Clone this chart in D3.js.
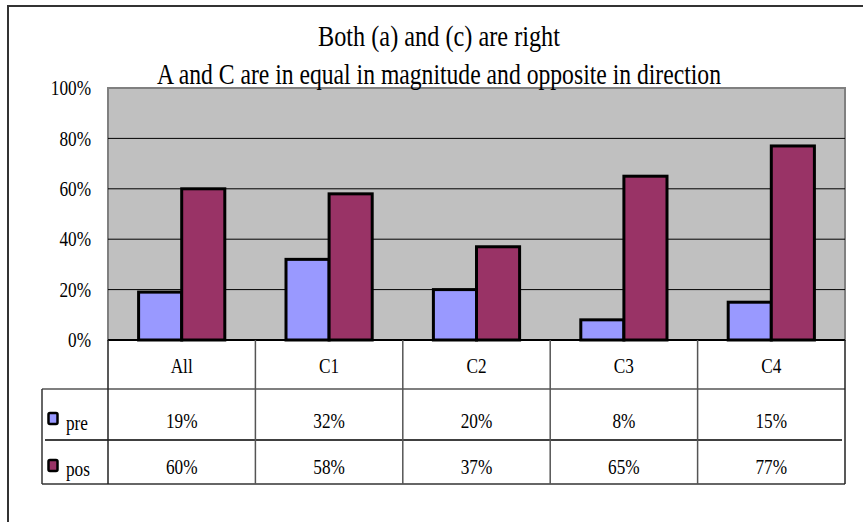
<!DOCTYPE html>
<html>
<head>
<meta charset="utf-8">
<script src="https://cdn.jsdelivr.net/npm/d3@7"></script>
<style>
  html, body { margin: 0; padding: 0; background: #fff; }
  svg { display: block; }
</style>
</head>
<body>
<svg id="chart" width="863" height="522"></svg>
<script>
// Data
const categories = ["All", "C1", "C2", "C3", "C4"];
const seriesNames = ["pre", "pos"];
const preValues = [0.19, 0.32, 0.20, 0.08, 0.15];
const posValues = [0.60, 0.58, 0.37, 0.65, 0.77];
const yTicks = [0, 0.2, 0.4, 0.6, 0.8, 1.0];
const titleLines = ["Both (a) and (c) are right",
                    "A and C are in equal in magnitude and opposite in direction"];

const colors = { pre: "#9999FF", pos: "#993366" };
const seriesValues = { pre: preValues, pos: posValues };
const FONT = "'Liberation Serif', 'DejaVu Serif', serif";

const svg = d3.select("#chart");

// Outer chart frame
svg.append("path")
  .attr("d", "M8,530 V6 H870")
  .attr("fill", "none").attr("stroke", "#333").attr("stroke-width", 2);

// Plot geometry
const plot = { left: 108, right: 845, top: 88, bottom: 340 };

const x = d3.scaleBand().domain(categories).range([plot.left, plot.right]).padding(0);
const xs = d3.scaleBand().domain(seriesNames).range([0, x.bandwidth()])
  .paddingInner(0).paddingOuter(0.71);
const y = d3.scaleLinear().domain([0, 1]).range([plot.bottom, plot.top]);
const fmt = d3.format(".0%");

// Condensed serif look: shrink horizontally while keeping anchor
function condense(sel, k) {
  sel.each(function () {
    const w = this.getComputedTextLength();
    d3.select(this).attr("textLength", w * k).attr("lengthAdjust", "spacingAndGlyphs");
  });
}

// Plot background
svg.append("rect")
  .attr("x", plot.left).attr("y", plot.top)
  .attr("width", plot.right - plot.left).attr("height", plot.bottom - plot.top)
  .attr("fill", "#C0C0C0").attr("stroke", "#808080").attr("stroke-width", 2);

// Gridlines
svg.append("g").selectAll("line")
  .data(yTicks.filter(d => d > 0 && d < 1))
  .join("line")
  .attr("x1", plot.left).attr("x2", plot.right)
  .attr("y1", d => y(d)).attr("y2", d => y(d))
  .attr("stroke", "#000").attr("stroke-width", 1);

// Y axis labels
const yAxis = d3.axisLeft(y).tickValues(yTicks).tickFormat(fmt).tickSize(0).tickPadding(17);
const yg = svg.append("g").attr("transform", `translate(${plot.left},0)`).call(yAxis);
yg.attr("font-family", FONT).attr("font-size", 21);
yg.select(".domain").remove();
yg.selectAll("text").attr("fill", "#000");
condense(yg.selectAll("text"), 0.82);

// Bars
const groups = svg.append("g").selectAll("g")
  .data(categories)
  .join("g")
  .attr("transform", d => `translate(${x(d)},0)`);

groups.selectAll("rect")
  .data((c, i) => seriesNames.map(s => ({ s, v: seriesValues[s][i] })))
  .join("rect")
  .attr("x", d => xs(d.s))
  .attr("y", d => y(d.v))
  .attr("width", xs.bandwidth())
  .attr("height", d => y(0) - y(d.v))
  .attr("fill", d => colors[d.s])
  .attr("stroke", "#000").attr("stroke-width", 3);

// Category axis line
svg.append("line")
  .attr("x1", plot.left).attr("x2", plot.right)
  .attr("y1", plot.bottom).attr("y2", plot.bottom)
  .attr("stroke", "#000").attr("stroke-width", 2);

// Data table
const tbl = { left: 42, headBottom: 389, rowSplit: 440, bottom: 484 };
const lineColor = "#333";

svg.append("line").attr("x1", tbl.left).attr("x2", plot.right)
  .attr("y1", tbl.headBottom).attr("y2", tbl.headBottom)
  .attr("stroke", "#555").attr("stroke-width", 1.5);
svg.append("line").attr("x1", 45).attr("x2", plot.right - 3)
  .attr("y1", tbl.rowSplit).attr("y2", tbl.rowSplit)
  .attr("stroke", "#000").attr("stroke-width", 1.5);
svg.append("line").attr("x1", tbl.left).attr("x2", plot.right)
  .attr("y1", tbl.bottom).attr("y2", tbl.bottom)
  .attr("stroke", lineColor).attr("stroke-width", 1.5);
svg.append("line").attr("x1", tbl.left).attr("x2", tbl.left)
  .attr("y1", tbl.headBottom).attr("y2", tbl.bottom)
  .attr("stroke", lineColor).attr("stroke-width", 1.5);
const colEdges = categories.map(c => x(c)).concat([plot.right]);
svg.append("g").selectAll("line")
  .data(colEdges)
  .join("line")
  .attr("x1", d => d).attr("x2", d => d)
  .attr("y1", plot.bottom).attr("y2", tbl.bottom)
  .attr("stroke", (d, i) => (i === 0 || i === colEdges.length - 1) ? "#222" : "#555")
  .attr("stroke-width", 1.5);

// Table text layer
const tg = svg.append("g").attr("font-family", FONT).attr("font-size", 21).attr("fill", "#000");

// Category labels
const catText = tg.append("g").selectAll("text")
  .data(categories)
  .join("text")
  .attr("x", d => x(d) + x.bandwidth() / 2)
  .attr("y", 373)
  .attr("text-anchor", "middle")
  .text(d => d);
condense(catText, 0.82);

// Value rows
const rowBaselines = { pre: 428, pos: 474 };
seriesNames.forEach(s => {
  const t = tg.append("g").selectAll("text")
    .data(seriesValues[s].map((v, i) => ({ c: categories[i], v })))
    .join("text")
    .attr("x", d => x(d.c) + x.bandwidth() / 2)
    .attr("y", rowBaselines[s])
    .attr("text-anchor", "middle")
    .text(d => fmt(d.v));
  condense(t, 0.82);
});

// Legend keys in the table
const keyTop = { pre: 413, pos: 460 };
seriesNames.forEach(s => {
  svg.append("rect")
    .attr("x", 48.5).attr("y", keyTop[s])
    .attr("width", 9).attr("height", 11)
    .attr("rx", 1.5)
    .attr("fill", colors[s]).attr("stroke", "#000").attr("stroke-width", 2.5);
  const t = tg.append("text")
    .attr("x", 66).attr("y", rowBaselines[s] + 2)
    .text(s);
  condense(t, 0.82);
});

// Title
const titleY = [46, 84];
const titleW = [242, 564];
const ttl = svg.append("g").attr("font-family", FONT).attr("font-size", 29).attr("fill", "#000");
titleLines.forEach((line, i) => {
  ttl.append("text")
    .attr("x", 439).attr("y", titleY[i])
    .attr("text-anchor", "middle")
    .attr("textLength", titleW[i])
    .attr("lengthAdjust", "spacingAndGlyphs")
    .text(line);
});
</script>
</body>
</html>
